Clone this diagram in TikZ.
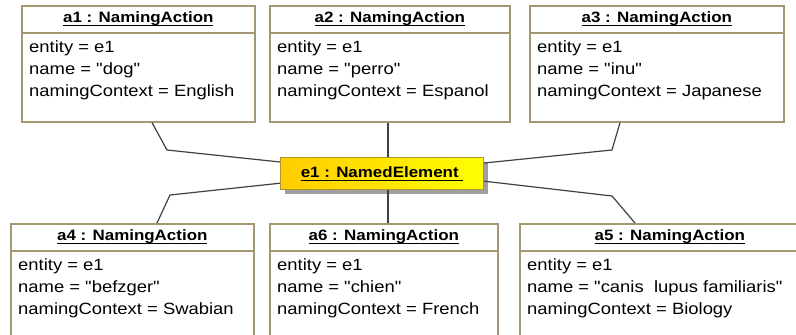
\documentclass[tikz,border=0pt]{standalone}
\usepackage{fontspec}
\setmainfont{Liberation Sans}[FakeStretch=1.13, Ligatures=TeXOff]
\usetikzlibrary{calc,shadows}

\definecolor{boxline}{RGB}{163,152,112}
\definecolor{connline}{RGB}{64,64,64}
\definecolor{elemline}{RGB}{176,150,40}
\definecolor{elemleft}{RGB}{255,204,0}
\definecolor{elemright}{RGB}{255,255,0}

% underlined title text with a rule of its own
\newcommand\ulbox[1]{\setbox0\hbox{#1}\leavevmode\rlap{\rule[-3.6pt]{\wd0}{1.3pt}}\box0}
% straight double quotes round a value
\newcommand\qv[1]{"#1"}

% object box: name, x, y, width, height, title, three attribute lines
\newcommand\umlobject[9]{%
  \node[objbox, minimum width=#4pt, minimum height=#5pt] (#1) at (#2,#3) {};
  \draw[sepline] ($(#1.north west)+(0,28)$) -- ($(#1.north east)+(0,28)$);
  \node[hdr] at ($(#1.north)+(0,14)$) {\ulbox{#6}};
  \node[attr] at ($(#1.north west)+(8,47)$) {#7};
  \node[attr] at ($(#1.north west)+(8,69)$) {#8};
  \node[attr] at ($(#1.north west)+(8,91)$) {#9};
}

\begin{document}
\begin{tikzpicture}[x=1pt,y=-1pt,
  objbox/.style={draw=boxline, line width=1.6pt, fill=white, inner sep=0pt, anchor=north west},
  sepline/.style={draw=boxline, line width=1.4pt},
  hdr/.style={font=\fontsize{15}{18}\selectfont\bfseries, inner sep=0pt, anchor=center},
  attr/.style={font=\fontsize{16.3}{19}\selectfont, inner sep=0pt, anchor=base west},
  conn/.style={draw=connline, line width=1.2pt},
  elem/.style={draw=elemline, line width=1.2pt, shading=axis, left color=elemleft, right color=elemright,
    inner sep=0pt, anchor=north west,
    drop shadow={shadow xshift=4pt, shadow yshift=-4pt, fill=black!38, opacity=1}}]
\useasboundingbox (0,0) rectangle (796,335);
\clip (0,0) rectangle (796,335);

\umlobject{a1}{21}{5}{233}{116}{a1 : NamingAction}{entity = e1}{name = \qv{dog}}{namingContext = English}
\umlobject{a2}{269}{5}{240}{116}{a2 : NamingAction}{entity = e1}{name = \qv{perro}}{namingContext = Espanol}
\umlobject{a3}{529}{5}{254}{116}{a3 : NamingAction}{entity = e1}{name = \qv{inu}}{namingContext = Japanese}
\umlobject{a4}{10}{223}{243}{130}{a4 : NamingAction}{entity = e1}{name = \qv{befzger}}{namingContext = Swabian}
\umlobject{a6}{269}{223}{228}{130}{a6 : NamingAction}{entity = e1}{name = \qv{chien}}{namingContext = French}
\umlobject{a5}{519}{223}{300}{130}{a5 : NamingAction}{entity = e1}{name = \qv{canis\ \ lupus familiaris}}{namingContext = Biology}

% the named element in the middle
\node[elem, minimum width=203pt, minimum height=32pt] (e1) at (280,157) {};
\node[hdr] at (e1.center) {\ulbox{e1 : NamedElement\ }};

% links to the naming actions
\draw[conn] ($(a1.south west)+(131,0)$) -- (167,150) -- ($(e1.north west)+(0,5)$);
\draw[conn] ($(a2.south west)+(119,0)$) -- ($(e1.north west)+(108,0)$);
\draw[conn] ($(a3.south west)+(91,0)$) -- (612,150) -- ($(e1.north east)+(0,6)$);
\draw[conn] ($(a4.north west)+(147,0)$) -- (170,195) -- ($(e1.south west)+(0,-7)$);
\draw[conn] ($(e1.south west)+(108,0)$) -- ($(a6.north west)+(119,0)$);
\draw[conn] ($(a5.north west)+(116,0)$) -- (612,196) -- ($(e1.south east)+(0,-9)$);
\end{tikzpicture}
\end{document}
